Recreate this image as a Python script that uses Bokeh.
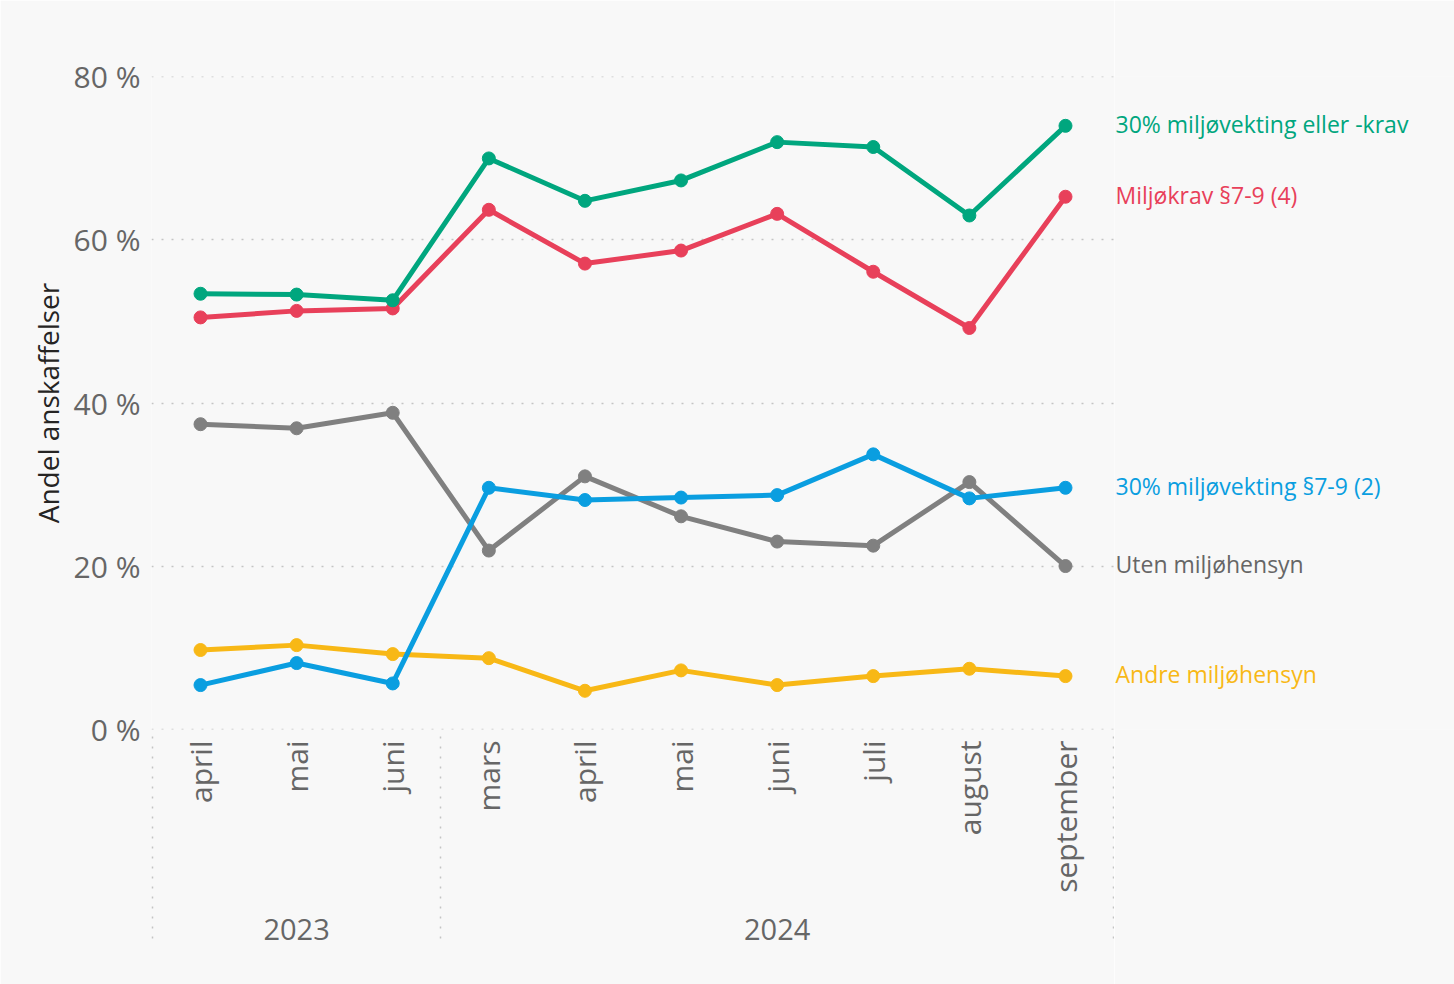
import math
from bokeh.plotting import figure
from bokeh.layouts import row
from bokeh.models import FactorRange, Range1d, ColumnDataSource, FixedTicker
from bokeh.embed import file_html
from bokeh.resources import INLINE
from bokeh.core.properties import value

# ---- data ----
years = ["2023", "2023", "2023", "2024", "2024", "2024", "2024", "2024", "2024", "2024"]
months = ["april", "mai", "juni", "mars", "april", "mai", "juni", "juli", "august", "september"]

series_names = [
    "Andre miljøhensyn",
    "Uten miljøhensyn",
    "30% miljøvekting §7-9 (2)",
    "Miljøkrav §7-9 (4)",
    "30% miljøvekting eller -krav",
]
andre_miljohensyn = [9.7, 10.3, 9.2, 8.7, 4.7, 7.2, 5.4, 6.5, 7.4, 6.5]
uten_miljohensyn = [37.4, 36.9, 38.8, 21.9, 31.0, 26.1, 23.0, 22.5, 30.3, 20.0]
miljovekting_7_9 = [5.4, 8.1, 5.6, 29.6, 28.1, 28.4, 28.7, 33.7, 28.3, 29.6]
miljokrav_7_9 = [50.5, 51.3, 51.6, 63.7, 57.1, 58.7, 63.2, 56.1, 49.2, 65.3]
miljovekting_eller_krav = [53.4, 53.3, 52.6, 70.0, 64.8, 67.3, 72.0, 71.4, 63.0, 74.0]

y_ticks = [0, 20, 40, 60, 80]
y_tick_labels = ["0 %", "20 %", "40 %", "60 %", "80 %"]
y_axis_title = "Andel anskaffelser"

# ---- styles ----
line_colors = ["#F8B816", "#808080", "#0A9EE0", "#E8405A", "#00A67E"]
label_colors = ["#F8B816", "#666666", "#0A9EE0", "#E8405A", "#00A67E"]
FONT = "Open Sans"
BG = "#f8f8f8"
GRID = "#c4c4c4"

series_values = [andre_miljohensyn, uten_miljohensyn, miljovekting_7_9,
                 miljokrav_7_9, miljovekting_eller_krav]

# year row pushed a little further down (short empty first line), as in the reference
axis_years = ["\n" + y for y in years]
x_factors = list(zip(axis_years, months))
# invisible edge groups so the axis draws separators at both outer edges
all_factors = [(" ", "")] + x_factors + [("  ", "")]
x_range = FactorRange(factors=all_factors, factor_padding=0, group_padding=0,
                      range_padding=-0.99, range_padding_units="absolute")
y_range = Range1d(y_ticks[0] - 0.05, y_ticks[-1] + 0.05)

TOP, BOTTOM = 76, 255
p = figure(width=1114, height=984, x_range=x_range, y_range=y_range,
           output_backend="svg", toolbar_location=None,
           min_border_left=151, min_border_right=0,
           min_border_top=TOP, min_border_bottom=BOTTOM)
p.background_fill_color = BG
p.border_fill_color = BG
p.outline_line_color = None

for vals, col in zip(series_values, line_colors):
    src = ColumnDataSource(dict(x=x_factors, y=vals))
    p.line("x", "y", source=src, line_color=col, line_width=5)
    p.scatter("x", "y", source=src, size=13, fill_color=col, line_color=col)

# y axis
ya = p.yaxis[0]
ya.ticker = FixedTicker(ticks=y_ticks)
ya.major_label_overrides = {t: l for t, l in zip(y_ticks, y_tick_labels)}
ya.major_label_text_font = FONT
ya.major_label_text_font_size = "30px"
ya.major_label_text_color = "#666666"
ya.major_label_standoff = 5
ya.major_tick_line_color = None
ya.minor_tick_line_color = None
ya.axis_line_color = None
ya.axis_label = y_axis_title
ya.axis_label_text_font = FONT
ya.axis_label_text_font_size = "28px"
ya.axis_label_text_font_style = "normal"
ya.axis_label_text_color = "#252423"
ya.axis_label_standoff = 4

# x axis (months, with year groups)
xa = p.xaxis[0]
xa.major_label_orientation = math.pi / 2
xa.major_label_text_font = FONT
xa.major_label_text_font_size = "30px"
xa.major_label_text_color = "#666666"
xa.major_label_standoff = 5
xa.major_tick_line_color = None
xa.minor_tick_line_color = None
xa.axis_line_color = None
xa.separator_line_color = GRID
xa.separator_line_dash = "2 8"
xa.separator_line_width = 1.5
xa.group_text_font = FONT
xa.group_text_font_size = "29px"
xa.group_text_font_style = "normal"
xa.group_text_color = "#666666"
xa.group_text_line_height = 0.21

# grid
p.xgrid.grid_line_color = None
p.ygrid.grid_line_color = GRID
p.ygrid.grid_line_dash = "2 8"
p.ygrid.grid_line_width = 1.5

# right-hand panel with end-of-line series labels
p2 = figure(width=340, height=984, x_range=Range1d(0, 340), y_range=y_range,
            output_backend="svg", toolbar_location=None,
            x_axis_type=None, y_axis_type=None,
            min_border_left=0, min_border_right=0,
            min_border_top=TOP, min_border_bottom=BOTTOM)
p2.background_fill_color = BG
p2.border_fill_color = BG
p2.outline_line_color = None
p2.grid.visible = False
lsrc = ColumnDataSource(dict(y=[v[-1] for v in series_values], t=series_names, c=label_colors))
p2.text(x=0, y="y", text="t", source=lsrc, x_offset=1, y_offset=-2,
        text_align="left", text_baseline="middle", text_color="c",
        text_font=value(FONT), text_font_size="23px")

layout = row(p, p2, spacing=0)
open("out.html", "w").write(file_html(layout, INLINE))
